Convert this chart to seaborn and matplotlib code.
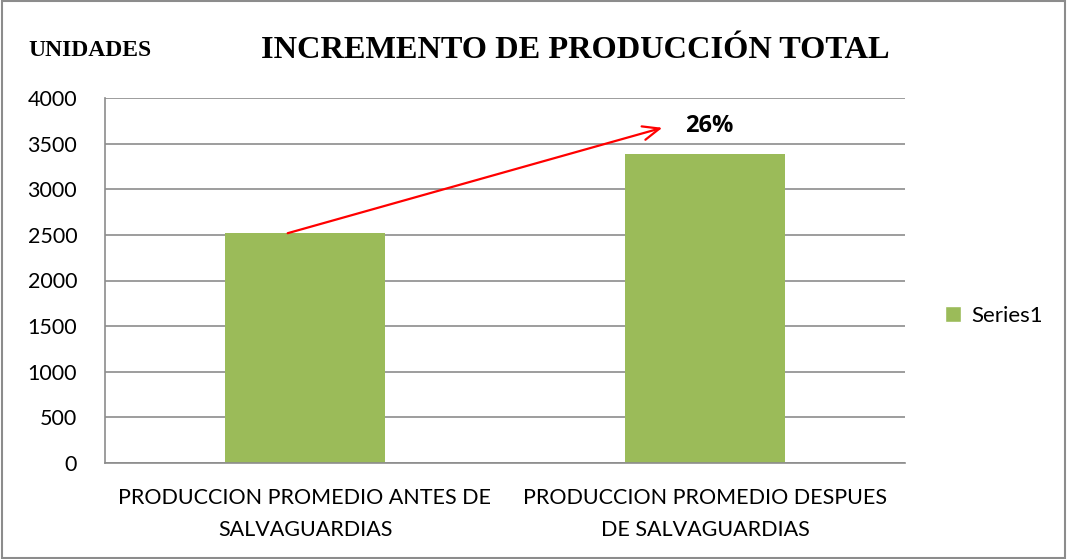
import matplotlib
matplotlib.use('Agg')
import matplotlib.pyplot as plt
import seaborn as sns
import pandas as pd
from matplotlib.patches import Rectangle, Patch

#datos
categorias = ['PRODUCCION PROMEDIO ANTES DE\nSALVAGUARDIAS',
              'PRODUCCION PROMEDIO DESPUES\nDE SALVAGUARDIAS']
unidades = [2520, 3390]
serie = ['Series1', 'Series1']
incremento = '26%'
yticks = [0, 500, 1000, 1500, 2000, 2500, 3000, 3500, 4000]

df = pd.DataFrame({'categoria': categorias, 'unidades': unidades, 'serie': serie})

sns.set_style("white")
plt.rcParams['font.family'] = ['Lato', 'DejaVu Sans']
plt.rcParams['text.color'] = 'black'
plt.rcParams['xtick.color'] = 'black'
plt.rcParams['ytick.color'] = 'black'

color_barras = "#9BBB59"
color_grid = "#8c8c8c"

fig = plt.figure(figsize=(10.67, 5.59), dpi=100)
ax = fig.add_axes([105/1067, 1 - 463/559, 800/1067, 365/559])

sns.barplot(data=df, x='categoria', y='unidades', color=color_barras,
            width=0.4, ax=ax, edgecolor=None, linewidth=0, saturation=1)

ax.set_ylim(0, 4000)
ax.set_xlim(-0.5, 1.5)
ax.set_yticks(yticks)
ax.yaxis.grid(True, color=color_grid, linewidth=1.2)
ax.set_axisbelow(True)
for s in ['top', 'right']:
    ax.spines[s].set_visible(False)
for s in ['left', 'bottom']:
    ax.spines[s].set_color(color_grid)
    ax.spines[s].set_linewidth(1.2)
ax.tick_params(axis='y', length=6, color=color_grid, width=1.2, labelsize=15.5,
               labelcolor='black', pad=14)
ax.tick_params(axis='x', length=0, labelsize=15.5, labelcolor='black', pad=18)
for lbl in ax.get_xticklabels():
    lbl.set_linespacing(1.75)
ax.set_xlabel('')
ax.set_ylabel('')

#flecha de incremento
ax.annotate('', xy=(0.9, 3682), xytext=(-0.05, 2510),
            arrowprops=dict(arrowstyle='->,head_length=1.2,head_width=0.5',
                            color='red', lw=1.6))
ax.text(1.01, 3690, incremento, ha='center', va='center', fontsize=17,
        fontweight='bold', family=['Open Sans', 'DejaVu Sans'])

#titulos
fig.text(575/1067, 1 - 50/559, 'INCREMENTO DE PRODUCCIÓN TOTAL', ha='center', va='center',
         fontsize=23.3, fontweight='bold', family=['Liberation Serif'])
fig.text(28/1067, 1 - 51/559, 'UNIDADES', ha='left', va='center',
         fontsize=17, fontweight='bold', family=['Liberation Serif'])

#leyenda
fig.legend(handles=[Patch(facecolor=color_barras, label='Series1')],
           loc='center left', bbox_to_anchor=(925/1067, 1 - 316/559),
           frameon=False, fontsize=16, handlelength=0.7, handleheight=0.7,
           handletextpad=0.5)

#borde
fig.patches.append(Rectangle((0.002, 0.002), 0.996, 0.996, transform=fig.transFigure,
                             fill=False, edgecolor=color_grid, linewidth=1.5))

plt.savefig('out.png', dpi=100)
